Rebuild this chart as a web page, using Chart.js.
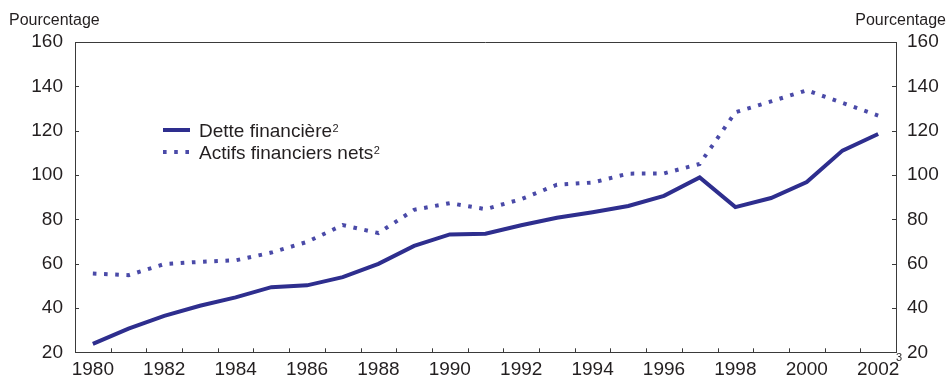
<!DOCTYPE html>
<html>
<head>
<meta charset="utf-8">
<script src="https://cdn.jsdelivr.net/npm/chart.js@4/dist/chart.umd.min.js"></script>
<style>
  html, body { margin: 0; padding: 0; background: #fff; }
  #wrap { width: 948px; height: 377px; position: relative; }
</style>
</head>
<body>
<div id="wrap"><canvas id="c" width="948" height="377"></canvas></div>
<script>
// Years on the horizontal axis
const years = ['1980','1981','1982','1983','1984','1985','1986','1987','1988','1989','1990','1991',
               '1992','1993','1994','1995','1996','1997','1998','1999','2000','2001','2002'];

// Financial debt (per cent)
const detteFinanciere = [23.8, 30.7, 36.4, 41.0, 44.8, 49.4, 50.2, 53.9, 59.9, 68.0, 73.2, 73.5,
                         77.3, 80.7, 83.2, 86.0, 90.6, 98.9, 85.5, 89.6, 96.8, 111.0, 118.5];

// Net financial assets (per cent)
const actifsFinanciersNets = [55.5, 54.8, 59.8, 60.8, 61.5, 65.0, 69.8, 77.4, 73.8, 84.3, 87.3, 84.6,
                              89.1, 95.6, 96.6, 100.6, 100.7, 105.0, 128.3, 133.2, 138.2, 132.5, 126.8];

// Value axis ticks
const yMin = 20, yMax = 160, yStep = 20;

const legendLabels = ['Dette financière', 'Actifs financiers nets'];
const axisTitle = 'Pourcentage';

const FONT = "'Liberation Sans', Arial, sans-serif";
const TEXT = '#231f20';
const AXIS = '#3a3a3a';
const SOLID = '#2e2e8e';
const DOTTED = '#4a4aa8';

const decor = {
  id: 'decor',
  afterDraw(chart) {
    const ctx = chart.ctx;
    const a = chart.chartArea;
    const x = chart.scales.x, y = chart.scales.y;
    ctx.save();
    ctx.strokeStyle = AXIS;
    ctx.lineWidth = 1;
    // top frame
    ctx.beginPath();
    ctx.moveTo(a.left, Math.round(a.top) + 0.5);
    ctx.lineTo(a.right, Math.round(a.top) + 0.5);
    ctx.stroke();
    // inward ticks on both value axes
    for (let v = yMin + yStep; v < yMax; v += yStep) {
      const py = Math.round(y.getPixelForValue(v)) + 0.5;
      ctx.beginPath();
      ctx.moveTo(a.left, py); ctx.lineTo(a.left + 4, py);
      ctx.moveTo(a.right, py); ctx.lineTo(a.right - 4, py);
      ctx.stroke();
    }
    // inward ticks between years
    for (let i = 0; i < years.length - 1; i++) {
      const px = Math.round((x.getPixelForValue(i) + x.getPixelForValue(i + 1)) / 2) + 0.5;
      ctx.beginPath();
      ctx.moveTo(px, a.bottom); ctx.lineTo(px, a.bottom - 4);
      ctx.stroke();
    }
    // axis titles
    ctx.fillStyle = TEXT;
    ctx.font = '16px ' + FONT;
    ctx.textBaseline = 'alphabetic';
    ctx.textAlign = 'left';
    ctx.fillText(axisTitle, 9, 25);
    ctx.textAlign = 'right';
    ctx.fillText(axisTitle, 946, 25);
    // footnote marker
    ctx.font = '11px ' + FONT;
    ctx.textAlign = 'left';
    ctx.fillText('3', 896, 361);

    // legend
    const lx0 = 163, lx1 = 190, tx = 199;
    const rows = [130, 152];
    ctx.lineWidth = 4;
    ctx.strokeStyle = SOLID;
    ctx.beginPath();
    ctx.moveTo(lx0, rows[0]); ctx.lineTo(lx1, rows[0]);
    ctx.stroke();
    ctx.strokeStyle = DOTTED;
    ctx.setLineDash([3.6, 7.6]);
    ctx.beginPath();
    ctx.moveTo(lx0, rows[1]); ctx.lineTo(lx1 + 1, rows[1]);
    ctx.stroke();
    ctx.setLineDash([]);
    ctx.fillStyle = TEXT;
    for (let i = 0; i < legendLabels.length; i++) {
      ctx.font = '19px ' + FONT;
      ctx.textAlign = 'left';
      ctx.textBaseline = 'alphabetic';
      const base = rows[i] + 7;
      ctx.fillText(legendLabels[i], tx, base);
      const w = ctx.measureText(legendLabels[i]).width;
      ctx.font = '11px ' + FONT;
      ctx.fillText('2', tx + w + 0.5, base - 5.5);
    }
    ctx.restore();
  }
};

const tickFont = { family: FONT, size: 19 };

new Chart(document.getElementById('c'), {
  type: 'line',
  data: {
    labels: years,
    datasets: [
      {
        label: legendLabels[0],
        data: detteFinanciere,
        borderColor: SOLID,
        borderWidth: 4,
        pointRadius: 0,
        tension: 0,
        yAxisID: 'y'
      },
      {
        label: legendLabels[1],
        data: actifsFinanciersNets,
        borderColor: DOTTED,
        borderWidth: 4,
        borderDash: [3.6, 7.6],
        borderCapStyle: 'butt',
        pointRadius: 0,
        tension: 0,
        yAxisID: 'y'
      }
    ]
  },
  options: {
    responsive: false,
    animation: false,
    events: [],
    layout: { padding: { top: 42, left: 0, right: 0, bottom: 0 } },
    plugins: { legend: { display: false }, tooltip: { enabled: false } },
    scales: {
      x: {
        type: 'category',
        offset: true,
        grid: { display: false, offset: true, drawTicks: false },
        border: { display: true, color: AXIS, width: 1 },
        ticks: {
          autoSkip: false,
          maxRotation: 0,
          padding: 6,
          color: TEXT,
          font: tickFont,
          callback: function (v, i) { return i % 2 === 0 ? years[i] : ''; }
        },
        afterFit: function (s) { s.height = 24.7; }
      },
      y: {
        position: 'left',
        min: yMin, max: yMax,
        grid: { display: false, drawTicks: false },
        border: { display: true, color: AXIS, width: 1 },
        ticks: { stepSize: yStep, padding: 12, color: TEXT, font: tickFont },
        afterFit: function (s) { s.width = 75; }
      },
      y2: {
        position: 'right',
        min: yMin, max: yMax,
        grid: { display: false, drawTicks: false },
        border: { display: true, color: AXIS, width: 1 },
        ticks: { stepSize: yStep, padding: 11, color: TEXT, font: tickFont },
        afterFit: function (s) { s.width = 52; }
      }
    }
  },
  plugins: [decor]
});
</script>
</body>
</html>
